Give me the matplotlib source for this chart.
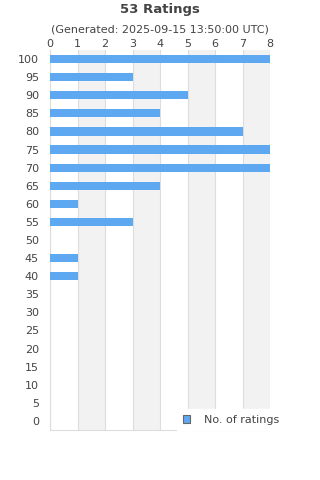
import matplotlib
matplotlib.use("Agg")
import matplotlib.pyplot as plt
from matplotlib.patches import Patch

ratings = [100, 95, 90, 85, 80, 75, 70, 65, 60, 55, 50, 45, 40, 35, 30, 25, 20, 15, 10, 5, 0]
counts = [8, 3, 5, 4, 7, 8, 8, 4, 1, 3, 0, 1, 1, 0, 0, 0, 0, 0, 0, 0, 0]
xticks = [0, 1, 2, 3, 4, 5, 6, 7, 8]

bar_color = '#5ea8f2'
text_color = '#444444'
grid_color = '#dddddd'

fig = plt.figure(figsize=(3.2, 4.8), dpi=100)
ax = fig.add_axes([50 / 320, 50 / 480, 220 / 320, 380 / 480])

ypos = list(range(len(ratings)))
ax.barh(ypos, counts, height=0.45, color=bar_color, zorder=3)

# alternating bands
for i in range(1, 8, 2):
    ax.axvspan(i, i + 1, color='#f2f2f2', zorder=0, lw=0)

ax.set_xlim(0, 8)
ax.set_ylim(len(ratings) - 0.5, -0.5)
ax.set_xticks(xticks)
ax.set_yticks(ypos)
ax.set_yticklabels([str(r) for r in ratings])
ax.xaxis.tick_top()
ax.tick_params(axis='both', length=0, labelsize=8, colors=text_color)
ax.tick_params(axis='x', pad=1)
ax.tick_params(axis='y', pad=8)
ax.grid(axis='x', color=grid_color, lw=0.8, zorder=1)

for side in ['top', 'right']:
    ax.spines[side].set_visible(False)
ax.spines['left'].set_color(grid_color)
ax.spines['bottom'].set_color(grid_color)

fig.text(0.5, 1 - 10 / 480, '53 Ratings', ha='center', va='center',
         fontsize=9.5, fontweight='bold', color=text_color)
fig.text(0.5, 1 - 30 / 480, '(Generated: 2025-09-15 13:50:00 UTC)', ha='center',
         va='center', fontsize=8, color=text_color)

leg = ax.legend(handles=[Patch(facecolor=bar_color, edgecolor='#666666', lw=0.8)],
                labels=['No. of ratings'], loc='lower right',
                bbox_to_anchor=(290 / 320, 44 / 480), bbox_transform=fig.transFigure,
                frameon=True, fontsize=8, handlelength=0.7, handleheight=0.7,
                borderpad=0.5, handletextpad=1.2, fancybox=False)
leg.get_frame().set_edgecolor('white')
leg.get_frame().set_facecolor('white')
leg.get_frame().set_alpha(1)
leg.set_zorder(5)
for t in leg.get_texts():
    t.set_color(text_color)

fig.savefig('out.png', dpi=100)
